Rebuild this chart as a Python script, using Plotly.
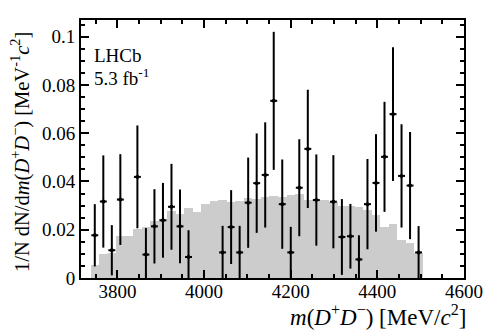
import plotly.graph_objects as go

# bin edges of the D+D- mass spectrum (39 bins)
m_lo = 3738.0
bin_width = 19.667
n_bins = 39

# background-subtracted data, None where no point is drawn
data_vals = [0.0177, 0.0317, 0.0115, 0.0325, None, 0.0419, 0.0097, 0.0214, 0.0239, 0.0295,
             0.0214, 0.0087, None, None, None, 0.0106, 0.0211, 0.0106, 0.0312, 0.0393,
             0.0427, 0.0734, 0.0306, 0.0106, 0.0374, 0.0535, 0.0323, None, 0.0316, 0.0170,
             0.0173, 0.0077, 0.0306, 0.0394, 0.0502, 0.0679, 0.0423, 0.0383, 0.0106]
data_errs = [0.0129, 0.0191, 0.0104, 0.0188, None, 0.0213, 0.0110, 0.0154, 0.0155, 0.0178,
             0.0153, 0.0111, None, None, None, 0.0110, 0.0153, 0.0110, 0.0187, 0.0206,
             0.0218, 0.0286, 0.0185, 0.0106, 0.0201, 0.0245, 0.0189, None, 0.0193, 0.0157,
             0.0134, 0.0100, 0.0187, 0.0202, 0.0228, 0.0277, 0.0214, 0.0222, 0.0109]

# phase-space / simulation template (grey histogram)
template_vals = [0.0052, 0.0101, 0.0104, 0.0173, 0.0176, 0.0205, 0.0212, 0.0238, 0.0244, 0.0276,
                 0.0264, 0.0288, 0.0274, 0.0308, 0.0318, 0.0323, 0.0316, 0.0321, 0.0332, 0.0329,
                 0.0336, 0.0339, 0.0337, 0.0344, 0.0350, 0.0323, 0.0325, 0.0323, 0.0316, 0.0300,
                 0.0297, 0.0295, 0.0282, 0.0259, 0.0211, 0.0223, 0.0159, 0.0143, 0.0105]

x_ticks = [3800, 4000, 4200, 4400, 4600]
y_ticks = [0, 0.02, 0.04, 0.06, 0.08, 0.1]
y_tick_text = ["0", "0.02", "0.04", "0.06", "0.08", "0.1"]

centers = [m_lo + bin_width * (i + 0.5) for i in range(n_bins)]

pts_x = [c for c, v in zip(centers, data_vals) if v is not None]
pts_y = [v for v in data_vals if v is not None]
pts_e = [e for e in data_errs if e is not None]

font = "Liberation Serif"

fig = go.Figure()

fig.add_trace(go.Bar(
    x=centers, y=template_vals, width=bin_width,
    marker=dict(color="#cccccc", line=dict(width=0)),
    hoverinfo="skip"
))

fig.add_trace(go.Scatter(
    x=pts_x, y=pts_y, mode="markers",
    marker=dict(color="black", size=4),
    error_y=dict(type="data", array=pts_e, color="black", thickness=2, width=0),
    error_x=dict(type="constant", value=8, color="black", thickness=2, width=0)
))

axis_common = dict(
    showline=True, linecolor="black", linewidth=2, mirror="allticks",
    ticks="inside", ticklen=8, tickwidth=1.5, tickcolor="black",
    showgrid=False, zeroline=False, automargin=False,
    tickfont=dict(family=font, size=19, color="black"),
)

# page body adds 8px of margin, so the margins here are 8px smaller
fig.update_layout(
    width=494, height=336,
    margin=dict(l=73, r=38, t=12, b=66, pad=0, autoexpand=False),
    plot_bgcolor="white", paper_bgcolor="white",
    showlegend=False, bargap=0,
    xaxis=dict(range=[3716, 4600], tickvals=x_ticks, ticklabelstandoff=-5,
               minor=dict(dtick=50, tick0=3800, ticks="inside", ticklen=4, tickcolor="black"),
               **axis_common),
    yaxis=dict(range=[0, 0.1069], tickvals=y_ticks, ticktext=y_tick_text,
               minor=dict(dtick=0.005, tick0=0, ticks="inside", ticklen=4, tickcolor="black"),
               **axis_common),
    annotations=[
        dict(text="<i>m</i>(<i>D</i><sup>+</sup><i>D</i><sup>\u2212</sup>) [MeV/<i>c</i><sup>2</sup>]",
             xref="paper", yref="paper", x=1.01, y=-0.145, xanchor="right", yanchor="middle",
             showarrow=False, font=dict(family=font, size=23, color="black")),
        dict(text="1/N dN/d<i>m</i>(<i>D</i><sup>+</sup><i>D</i><sup>\u2212</sup>) [MeV<sup>-1</sup><i>c</i><sup>2</sup>]",
             xref="paper", yref="paper", x=-0.158, y=0.49, xanchor="center", yanchor="middle",
             textangle=-90, showarrow=False, font=dict(family=font, size=20.5, color="black")),
        dict(text="LHCb", xref="paper", yref="paper", x=0.028, y=0.864,
             xanchor="left", yanchor="middle", showarrow=False,
             font=dict(family=font, size=19, color="black")),
        dict(text="5.3 fb<sup>-1</sup>", xref="paper", yref="paper", x=0.028, y=0.778,
             xanchor="left", yanchor="middle", showarrow=False,
             font=dict(family=font, size=19, color="black")),
    ],
)

fig.write_html("out.html")
